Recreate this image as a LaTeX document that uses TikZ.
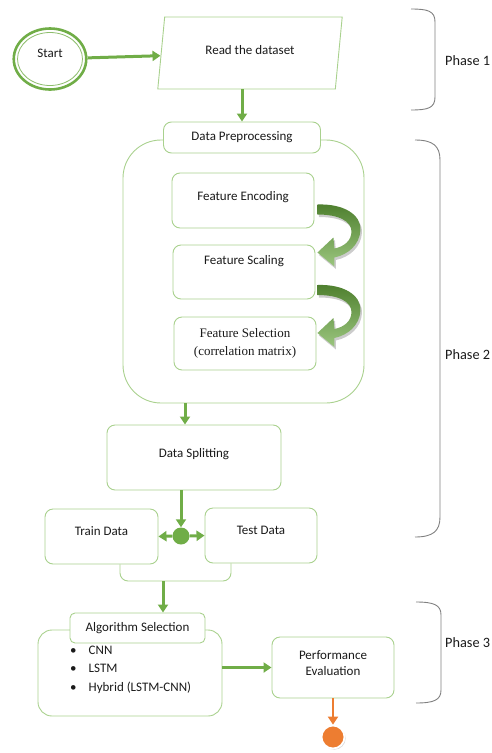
\documentclass[tikz,border=0pt]{standalone}
\usepackage{fontspec}
\setmainfont{Carlito}
\newfontfamily\flserif{Liberation Serif}
\usetikzlibrary{arrows.meta,calc,positioning,shadows,shapes.geometric}
\definecolor{flink}{HTML}{1A1A1A}
\definecolor{flgreen}{HTML}{70AD47}
\definecolor{fldark}{HTML}{4E7F2E}
\definecolor{fllight}{HTML}{A9D18E}
\definecolor{florange}{HTML}{ED7D31}
\definecolor{flbracecol}{HTML}{808080}
\tikzset{
  flbox/.style={
    draw=fllight,
    line width=0.9pt,
    rounded corners=8pt,
    fill=white,
    align=center,
    inner sep=0pt,
    font=\fontsize{13}{17}\selectfont,
    text=flink
  },
  flgroup/.style={
    draw=fllight,
    line width=0.9pt,
    inner sep=0pt
  },
  flraise/.style={
    text height=8.4pt,
    text depth=#1
  },
  flstart/.style={
    ellipse,
    draw=flgreen,
    line width=2.6pt,
    fill=white,
    minimum width=72.5pt,
    minimum height=61pt,
    inner sep=0pt,
    font=\fontsize{13}{17}\selectfont,
    text=flink
  },
  flinner/.style={
    draw=flgreen!80,
    line width=0.8pt
  },
  flread/.style={
    trapezium,
    trapezium left angle=76,
    trapezium right angle=104,
    trapezium stretches=true,
    draw=fllight,
    line width=0.9pt,
    minimum width=186pt,
    minimum height=72pt,
    inner sep=0pt,
    font=\fontsize{13}{17}\selectfont,
    text=flink
  },
  flhub/.style={
    circle,
    fill=flgreen,
    minimum size=17pt,
    inner sep=0pt
  },
  flstop/.style={
    circle,
    fill=florange,
    draw=white,
    line width=1.8pt,
    minimum size=23pt,
    inner sep=0pt,
    drop shadow={shadow xshift=1.2pt, shadow yshift=-1.2pt, opacity=0.3}
  },
  flarrow/.style={
    -{Triangle[length=8pt,width=10pt]},
    line width=3pt,
    color=flgreen
  },
  flstoparrow/.style={
    -{Triangle[length=8pt,width=10pt]},
    line width=2.6pt,
    color=florange
  },
  flbrace/.style={
    draw=flbracecol,
    line width=0.9pt
  },
  fllabel/.style={
    anchor=west,
    inner sep=0pt,
    font=\fontsize{14.3}{17}\selectfont,
    text=flink
  },
  flcurl outline/.style={
    insert path={(0,0) .. controls (26,-1) and (44,10) .. (43,26)
      .. controls (42,40) and (31,50) .. (17,53) -- (17,62) -- (0,48)
      -- (16,33) -- (17,44) .. controls (27,42) and (34,36) .. (34,27)
      .. controls (34,17) and (22,10) .. (0,10) -- cycle}
  },
  flcurl/.pic={
    \fill[black!20, shift={(1.5,2.5)}, flcurl outline];
    \path[top color=fldark, bottom color=flgreen!70!white, flcurl outline];
  }
}

\begin{document}
\begin{tikzpicture}[x=1pt,y=-1pt]
  \useasboundingbox (0,0) rectangle (491,753);

  \node[flstart, flraise=12pt] (start) at (50,59) {Start};
  \draw[flinner] (start.center) ellipse [x radius=32.5, y radius=26.5];
  \node[flread, flraise=6pt] (read) at (250,53) {Read the dataset};

  \node[flgroup, minimum width=241pt, minimum height=263pt, rounded corners=38pt] (prepbody) at (243.5,271.5) {};
  \node[flbox, minimum width=157pt, minimum height=31pt, flraise=3pt] (prep) at (242,137.5) {Data Preprocessing};
  \node[flbox, minimum width=142pt, minimum height=55pt, flraise=9pt] (encode) at (243,200.5) {Feature Encoding};
  \node[flbox, minimum width=142pt, minimum height=54pt, flraise=24pt] (scaling) at (244,272) {Feature Scaling};
  \node[flbox, minimum width=142pt, minimum height=53pt, font=\flserif\fontsize{13}{17.5}\selectfont] (select) at (245,343.5) {Feature Selection\\(correlation matrix)};
  \pic at ($(encode.east)+(3,4)$) {flcurl};
  \pic at ($(scaling.east)+(2,13)$) {flcurl};

  \node[flbox, minimum width=174pt, minimum height=65pt, flraise=9pt] (split) at (194,457.5) {Data Splitting};
  \node[flhub] (hub) at (181,536) {};
  \node[flbox, minimum width=113pt, minimum height=55pt, flraise=11pt] (train) at (101.5,536.5) {Train Data};
  \node[flbox, minimum width=112pt, minimum height=55pt, flraise=11pt] (test) at (261,535.5) {Test Data};
  \coordinate (merge) at (163,581);

  \node[flgroup, minimum width=184pt, minimum height=86pt, rounded corners=14pt] (algobody) at (130,673) {};
  \node[flbox, minimum width=135pt, minimum height=30pt, rounded corners=5pt, flraise=1pt] (algo) at (137.5,628) {Algorithm Selection};
  \node[fllabel, font=\fontsize{13}{18.5}\selectfont] (algolist) at (70,669) {%
    \begin{tabular}{@{}l@{\hspace{12pt}}l@{}}
      \textbullet & CNN\\
      \textbullet & LSTM\\
      \textbullet & Hybrid (LSTM-CNN)
    \end{tabular}};
  \node[flbox, minimum width=122pt, minimum height=61pt, font=\fontsize{13}{16.5}\selectfont, text depth=9pt] (perf) at (333,667.5) {Performance\\Evaluation};
  \node[flstop] (stop) at (333,737) {};

  \draw[flarrow] (start) -- (read);
  \draw[flarrow] (prep.north |- read.south) -- (prep.north);
  \draw[flarrow] ([xshift=-58.5pt]prepbody.south) -- ([xshift=-9pt]split.north);
  \draw[flarrow] ([xshift=-13pt]split.south) -- (hub.north);
  \draw[flarrow] (hub.west) -- (train.east);
  \draw[flarrow] (hub.east) -- (test.west);
  \draw[flgroup, rounded corners=8pt] ([xshift=18.5pt]train.south) |- (merge) -| ([xshift=-30pt]test.south);
  \draw[flarrow] (merge) -- (merge |- algo.north);
  \draw[flarrow] (algobody.east |- perf.west) -- (perf.west);
  \draw[flstoparrow] (perf.south) -- (stop.north);

  % phase brackets
  \draw[flbrace] (411,9) .. controls (428,9) and (435,11) .. (435,22) -- (435,97)
    .. controls (435,108) and (428,110) .. (411,110);
  \node[fllabel] (phase1) at (445,61) {Phase 1};
  \draw[flbrace] (415,140) .. controls (433,140) and (440,146) .. (440,160) -- (440,517)
    .. controls (440,531) and (433,537) .. (415,537);
  \node[fllabel] (phase2) at (445,355) {Phase 2};
  \draw[flbrace] (416,602) .. controls (434,602) and (441,605) .. (441,615) -- (441,690)
    .. controls (441,700) and (434,703) .. (416,703);
  \node[fllabel] (phase3) at (445,643) {Phase 3};
\end{tikzpicture}
\end{document}
